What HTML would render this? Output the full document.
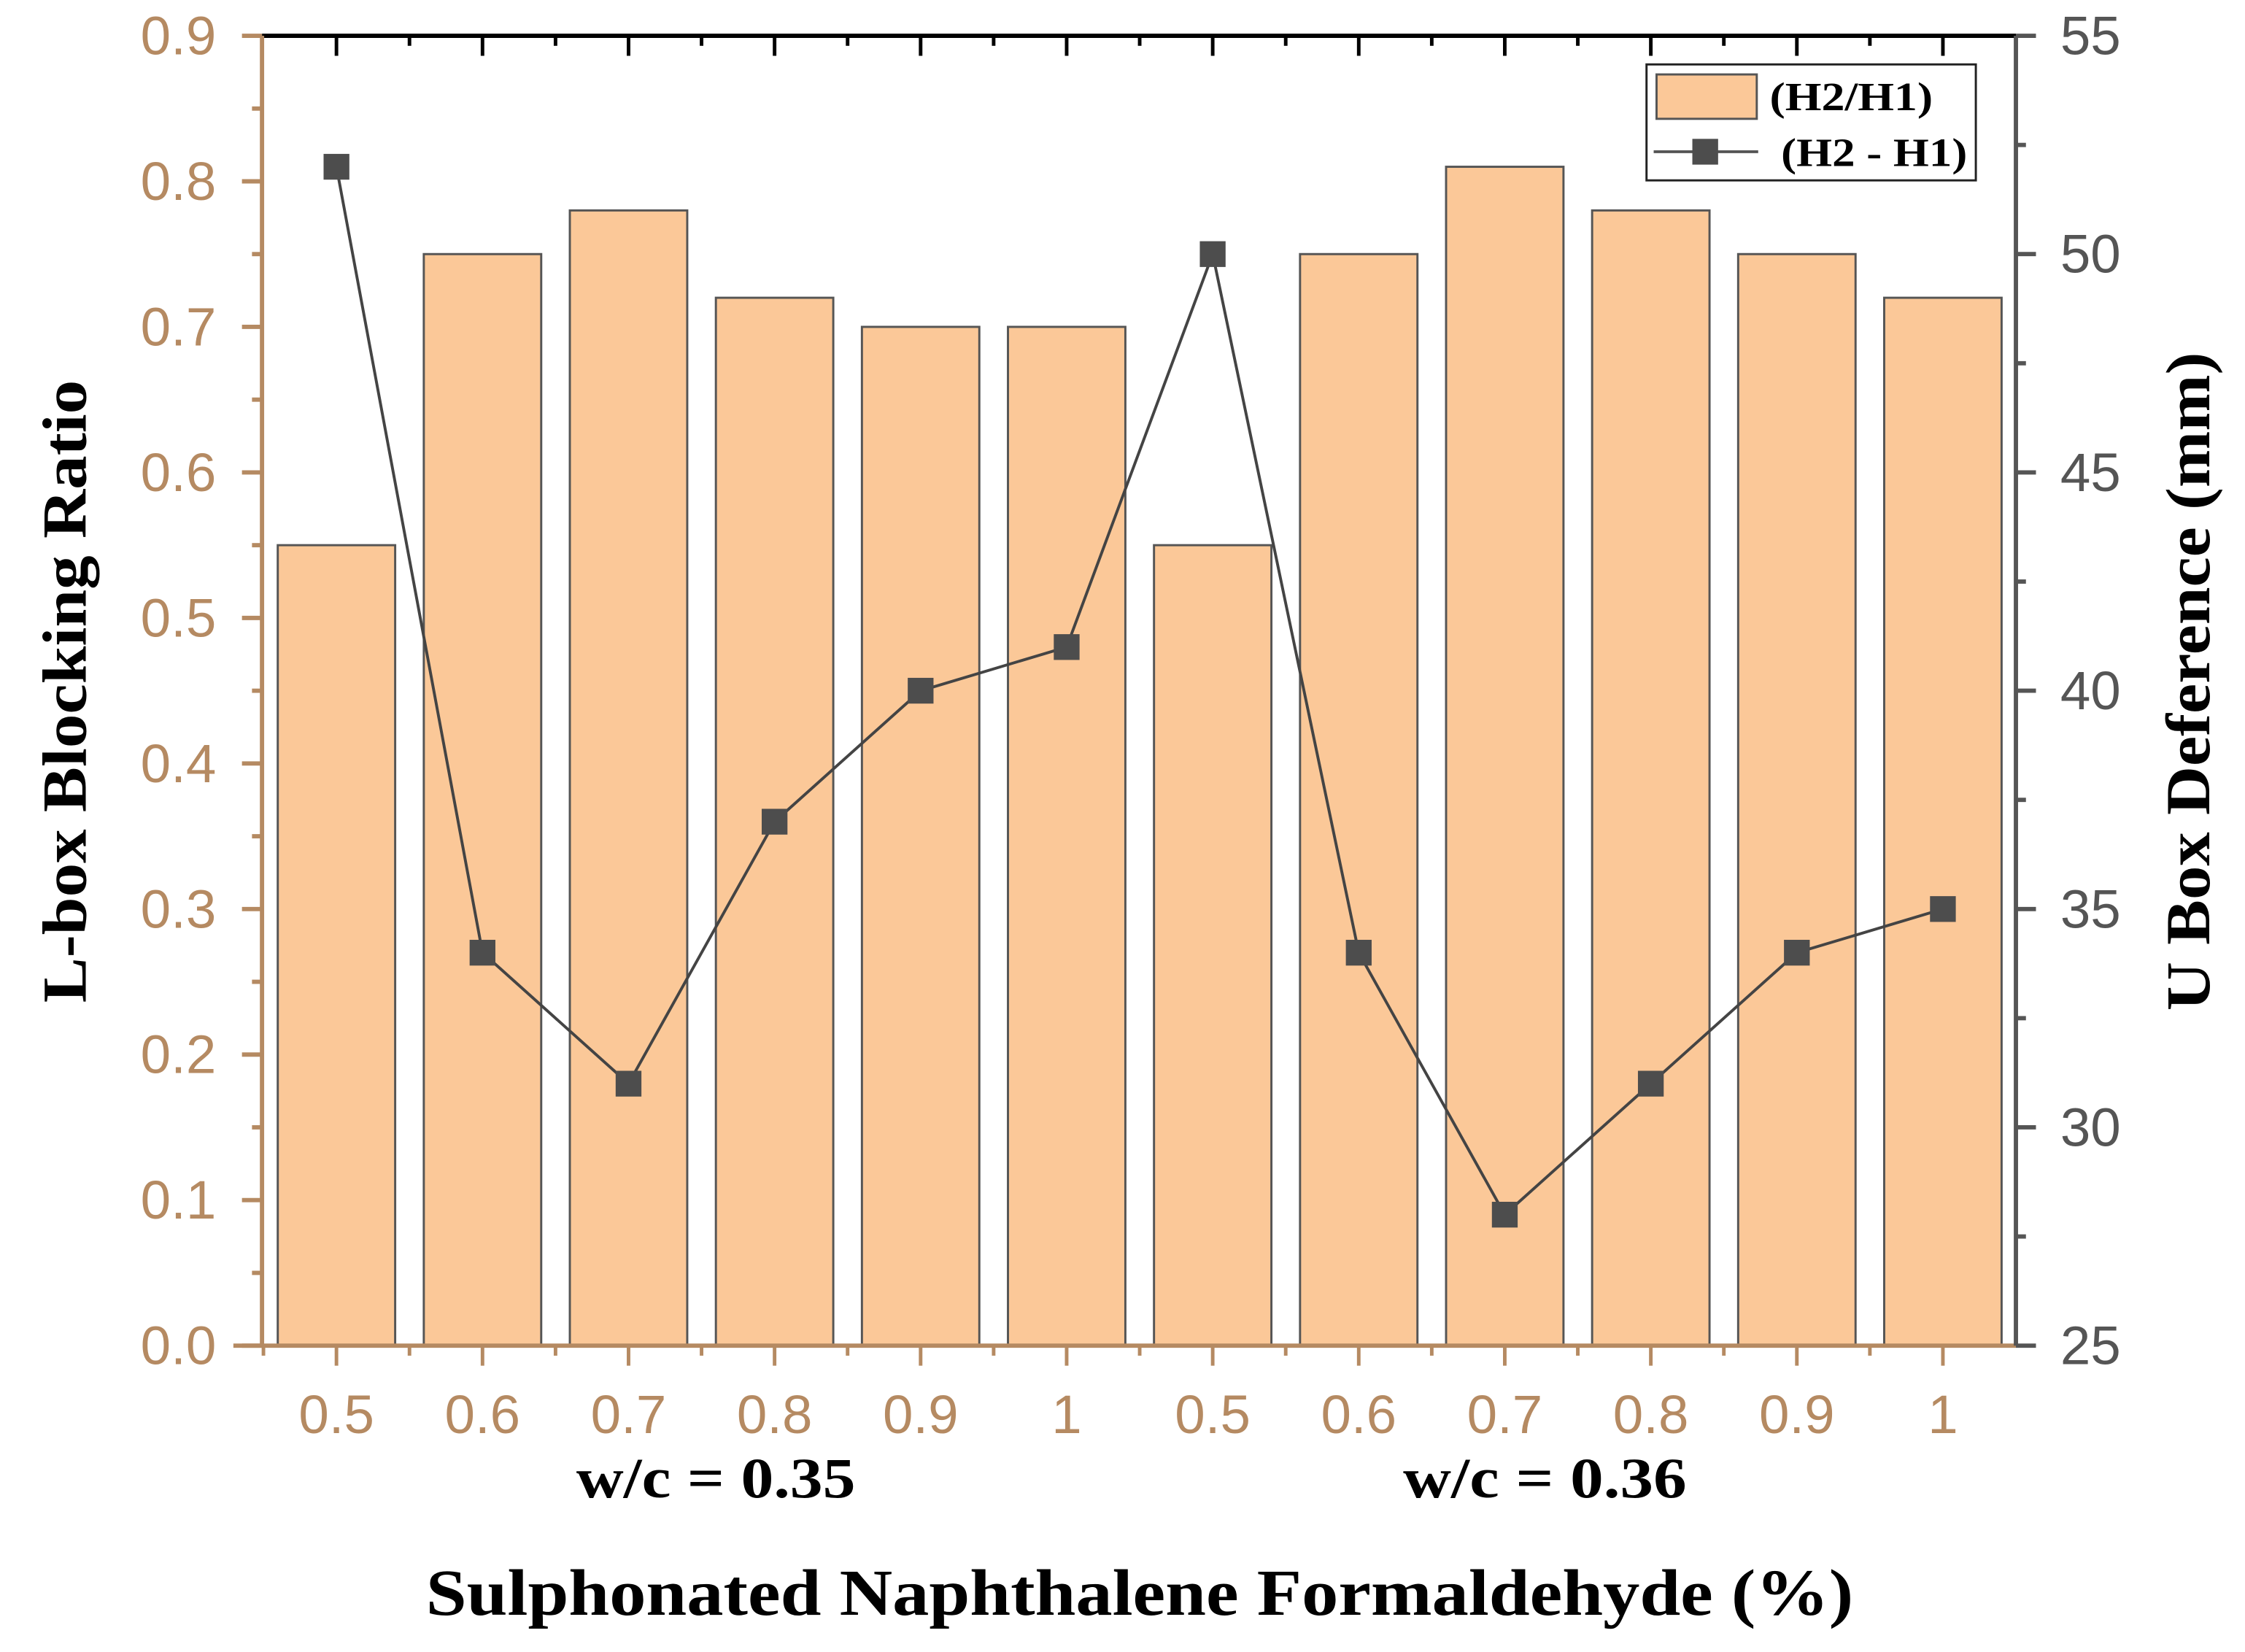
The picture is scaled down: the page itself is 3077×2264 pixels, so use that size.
<!DOCTYPE html>
<html><head><meta charset="utf-8"><style>
html,body{margin:0;padding:0;background:#fff;}
svg{display:block;}
</style></head><body>
<svg id="chart" xmlns="http://www.w3.org/2000/svg" width="3077" height="2264" viewBox="0 0 1568 1154" preserveAspectRatio="none">
<g id="bars"></g>
<g id="axes"></g>
<g id="line"></g>
<g>
<rect x="1150" y="45" width="230" height="81" fill="#fff" stroke="#222" stroke-width="1.5"/>
<rect x="1157" y="52" width="70" height="31" fill="#fbc898" stroke="#555" stroke-width="1.5"/>
<text x="1236" y="77" font-family="Liberation Serif, serif" font-weight="bold" font-size="28" textLength="114" lengthAdjust="spacingAndGlyphs">(H2/H1)</text>
<line x1="1155" y1="106" x2="1228" y2="106" stroke="#555" stroke-width="2"/>
<rect x="1182" y="97" width="18" height="18" fill="#4d4d4d"/>
<text x="1244" y="116" font-family="Liberation Serif, serif" font-weight="bold" font-size="28" textLength="130" lengthAdjust="spacingAndGlyphs">(H2 - H1)</text>
</g>
<text transform="translate(60,483) rotate(-90)" text-anchor="middle" font-family="Liberation Serif, serif" font-weight="bold" font-size="44" textLength="435" lengthAdjust="spacingAndGlyphs">L-box Blocking Ratio</text>
<text transform="translate(1543,476) rotate(-90)" text-anchor="middle" font-family="Liberation Serif, serif" font-weight="bold" font-size="44" textLength="460" lengthAdjust="spacingAndGlyphs">U Box Deference (mm)</text>
<text x="500" y="1046" text-anchor="middle" font-family="Liberation Serif, serif" font-weight="bold" font-size="40" textLength="195" lengthAdjust="spacingAndGlyphs">w/c = 0.35</text>
<text x="1079" y="1046" text-anchor="middle" font-family="Liberation Serif, serif" font-weight="bold" font-size="40" textLength="198" lengthAdjust="spacingAndGlyphs">w/c = 0.36</text>
<text x="796" y="1128" text-anchor="middle" font-family="Liberation Serif, serif" font-weight="bold" font-size="46" textLength="997" lengthAdjust="spacingAndGlyphs">Sulphonated Naphthalene Formaldehyde (%)</text>
</svg>
<script>
const categories = ["0.5","0.6","0.7","0.8","0.9","1","0.5","0.6","0.7","0.8","0.9","1"];
const ratioValues = [0.55,0.75,0.78,0.72,0.70,0.70,0.55,0.75,0.81,0.78,0.75,0.72];
const diffValues = [52,34,31,37,40,41,50,34,28,31,34,35];
const leftTicks = ["0.0","0.1","0.2","0.3","0.4","0.5","0.6","0.7","0.8","0.9"];
const rightTicks = ["25","30","35","40","45","50","55"];

const NS = "http://www.w3.org/2000/svg";
const X0 = 183, X1 = 1408, Y0 = 940, Y1 = 25;
const step = 102;
const xc = i => 235 + i * step;
const yL = v => Y0 - (v - 0) / 0.9 * (Y0 - Y1);
const yR = v => Y0 - (v - 25) / 30 * (Y0 - Y1);
const TAN = "#b58a62", GR = "#555";
function mk(parent, tag, attrs) {
  const e = document.createElementNS(NS, tag);
  for (const k in attrs) e.setAttribute(k, attrs[k]);
  parent.appendChild(e);
  return e;
}
const bars = document.getElementById("bars");
const axes = document.getElementById("axes");
const line = document.getElementById("line");

ratioValues.forEach((v, i) => {
  const r = mk(bars, "rect", {x: xc(i) - 41, y: yL(v), width: 82, height: Y0 - yL(v), fill: "#fbc898", stroke: GR, "stroke-width": 1.5});
  
  
});

let t = mk(axes, "line", {x1: X0, y1: Y1, x2: X1, y2: Y1, stroke: "#000", "stroke-width": 3});


for (let i = 0; i < categories.length; i++) {
  const a = mk(axes, "line", {x1: xc(i), y1: Y1, x2: xc(i), y2: Y1 + 14, stroke: "#000", "stroke-width": 2.5});
  
  
  if (i < categories.length - 1) {
    const b = mk(axes, "line", {x1: xc(i) + step / 2, y1: Y1, x2: xc(i) + step / 2, y2: Y1 + 7, stroke: "#000", "stroke-width": 2.5});
    
    
  }
}
let bAx = mk(axes, "line", {x1: X0 - 20, y1: Y0, x2: X1, y2: Y0, stroke: TAN, "stroke-width": 3});


categories.forEach((c, i) => {
  const a = mk(axes, "line", {x1: xc(i), y1: Y0, x2: xc(i), y2: Y0 + 14, stroke: TAN, "stroke-width": 2.5});
  
  
  const b = mk(axes, "line", {x1: xc(i) - step / 2, y1: Y0, x2: xc(i) - step / 2, y2: Y0 + 7, stroke: TAN, "stroke-width": 2.5});
  
  
  const tx = mk(axes, "text", {x: xc(i), y: 1001, "text-anchor": "middle", fill: TAN, "font-family": "Liberation Sans, sans-serif", "font-size": 38});
  tx.textContent = c;
  
  
});
let lAx = mk(axes, "line", {x1: X0, y1: Y0, x2: X0, y2: Y1, stroke: TAN, "stroke-width": 3});


leftTicks.forEach((lab, i) => {
  const v = parseFloat(lab);
  const a = mk(axes, "line", {x1: X0 - 14, y1: yL(v), x2: X0, y2: yL(v), stroke: TAN, "stroke-width": 3});
  
  
  if (i < leftTicks.length - 1) {
    const b = mk(axes, "line", {x1: X0 - 7, y1: yL(v + 0.05), x2: X0, y2: yL(v + 0.05), stroke: TAN, "stroke-width": 3});
    
    
  }
  const tx = mk(axes, "text", {x: 151, y: yL(v) + 13, "text-anchor": "end", fill: TAN, "font-family": "Liberation Sans, sans-serif", "font-size": 38});
  tx.textContent = lab;
  
  
});
let rAx = mk(axes, "line", {x1: X1, y1: Y0, x2: X1, y2: Y1, stroke: GR, "stroke-width": 3});


rightTicks.forEach((lab, i) => {
  const v = parseFloat(lab);
  const a = mk(axes, "line", {x1: X1, y1: yR(v), x2: X1 + 14, y2: yR(v), stroke: GR, "stroke-width": 3});
  
  
  if (i < rightTicks.length - 1) {
    const b = mk(axes, "line", {x1: X1, y1: yR(v + 2.5), x2: X1 + 7, y2: yR(v + 2.5), stroke: GR, "stroke-width": 3});
    
    
  }
  const tx = mk(axes, "text", {x: 1439, y: yR(v) + 13, fill: GR, "font-family": "Liberation Sans, sans-serif", "font-size": 38});
  tx.textContent = lab;
  
  
});
const pts = diffValues.map((v, i) => xc(i) + "," + yR(v)).join(" ");
const pl = mk(line, "polyline", {points: pts, fill: "none", stroke: "#444", "stroke-width": 2});


diffValues.forEach((v, i) => {
  const m = mk(line, "rect", {x: xc(i) - 9, y: yR(v) - 9, width: 18, height: 18, fill: "#4d4d4d"});
  
  
});
</script>
</body></html>
